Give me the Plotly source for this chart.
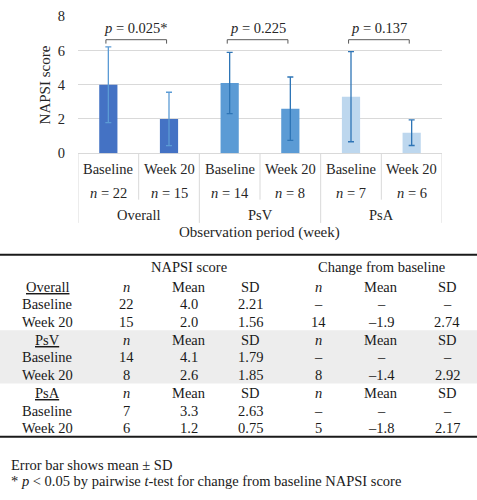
import plotly.graph_objects as go

# ---------------- data ----------------
groups = ["Overall", "PsV", "PsA"]
periods = ["Baseline", "Week 20"]
n_values = [22, 15, 14, 8, 7, 6]
means = [4.0, 2.0, 4.1, 2.6, 3.3, 1.2]
sds = [2.21, 1.56, 1.79, 1.85, 2.63, 0.75]
p_labels = ["0.025*", "0.225", "0.137"]
change_n = [14, 8, 5]
change_mean = [-1.9, -1.4, -1.8]
change_sd = [2.74, 2.92, 2.17]
y_ticks = [0, 2, 4, 6, 8]

bar_colors = ["#4472C4", "#5B9BD5", "#BDD7EE"]
err_colors = ["#5B9BD5", "#2E75B6", "#2E75B6"]

W, H = 477, 500
FONT = "Liberation Serif"
FS = 14.5


def px(x):
    return x / W


def py(y):
    return 1 - y / H


fig = go.Figure()

for g, name in enumerate(groups):
    idx = [2 * g, 2 * g + 1]
    fig.add_trace(go.Bar(
        x=idx,
        y=[means[i] for i in idx],
        width=0.3,
        marker=dict(color=bar_colors[g], line=dict(width=0)),
        error_y=dict(type="data", array=[sds[i] for i in idx], visible=True,
                     color=err_colors[g], thickness=1.3, width=3),
        name=name,
        showlegend=False,
        hoverinfo="skip",
    ))

shapes = []
annotations = []


def text(x, y, t, xref="paper", yref="paper", size=FS, color="#262626", xanchor="center", **kw):
    annotations.append(dict(xref=xref, yref=yref, x=x, y=y, text=t, showarrow=False,
                            xanchor=xanchor, yanchor="middle",
                            font=dict(family=FONT, size=size, color=color), **kw))


# category separators
for k in range(7):
    xs = k - 0.5
    long_line = (k % 2 == 0)
    shapes.append(dict(type="line", xref="x", yref="paper", x0=xs, x1=xs,
                       y0=py(150), y1=py(222 if long_line else 198),
                       line=dict(color="#D9D9D9", width=1)))

# category labels
for i in range(6):
    text(i, py(166), periods[i % 2], xref="x")
    text(i, py(191), f"<i>n</i> = {n_values[i]}", xref="x")
for g, name in enumerate(groups):
    text(2 * g + 0.5, py(214), name, xref="x")

# axis titles
text(px(259), py(232), "Observation period (week)", size=FS + 0.5)
text(px(45), py(80), "NAPSI score", size=FS + 0.5, textangle=-90)

# p-value brackets
for g in range(3):
    x0 = 2 * g - 0.04
    x1 = 2 * g + 0.96
    shapes.append(dict(type="path", xref="x", yref="y",
                       path=f"M {x0},6.4 L {x0},6.63 L {x1},6.63 L {x1},6.4",
                       line=dict(color="#595959", width=1)))
    text((x0 + x1) / 2, 7.3, f"<i>p</i> = {p_labels[g]}", xref="x", yref="y")

# ---------------- table ----------------
shapes.append(dict(type="rect", xref="paper", yref="paper", x0=0, x1=1,
                   y0=py(388), y1=py(333), fillcolor="#EDEDED", line=dict(width=0), layer="below"))
shapes.append(dict(type="line", xref="paper", yref="paper", x0=0, x1=1,
                   y0=py(255), y1=py(255), line=dict(color="#1a1a1a", width=2)))
shapes.append(dict(type="line", xref="paper", yref="paper", x0=0, x1=1,
                   y0=py(443), y1=py(443), line=dict(color="#1a1a1a", width=2)))

col_x = [47, 126, 189, 251, 318, 381, 447]


def cell(x, y, t):
    text(px(x), py(y), t, color="#1a1a1a")


cell(189, 268, "NAPSI score")
cell(381, 268, "Change from baseline")

row_y = [288, 306, 324.5, 343, 361, 379, 398, 416, 434]
dash = "–"


def fmt_signed(v):
    return f"–{abs(v):.1f}" if v < 0 else f"{v:.1f}"


for g, name in enumerate(groups):
    y_head, y_b, y_w = row_y[3 * g], row_y[3 * g + 1], row_y[3 * g + 2]
    head = [f"<u>{name}</u>", "<i>n</i>", "Mean", "SD", "<i>n</i>", "Mean", "SD"]
    for c, t in enumerate(head):
        cell(col_x[c], y_head, t)
    b, w = 2 * g, 2 * g + 1
    base_row = [periods[0], str(n_values[b]), f"{means[b]:.1f}", f"{sds[b]:.2f}", dash, dash, dash]
    wk_row = [periods[1], str(n_values[w]), f"{means[w]:.1f}", f"{sds[w]:.2f}",
              str(change_n[g]), fmt_signed(change_mean[g]), f"{change_sd[g]:.2f}"]
    for c, t in enumerate(base_row):
        cell(col_x[c], y_b, t)
    for c, t in enumerate(wk_row):
        cell(col_x[c], y_w, t)

# footnotes
text(px(9), py(472), "Error bar shows mean ± SD", xanchor="left", color="#1a1a1a", size=14.5)
text(px(9), py(489), "* <i>p</i> < 0.05 by pairwise <i>t</i>-test for change from baseline NAPSI score",
     xanchor="left", color="#1a1a1a", size=14.5)

fig.update_layout(
    width=W, height=H, autosize=False,
    margin=dict(l=0, r=0, t=0, b=0),
    paper_bgcolor="white", plot_bgcolor="white",
    shapes=shapes, annotations=annotations,
    hovermode=False,
    xaxis=dict(domain=[px(78), px(442)], range=[-0.5, 5.5], showticklabels=False,
               showgrid=False, zeroline=False, showline=False, ticks="", fixedrange=True),
    yaxis=dict(domain=[py(150), py(8.5)], range=[0, 8], tickvals=y_ticks,
               showgrid=True, gridcolor="#D9D9D9", gridwidth=1,
               zeroline=True, zerolinecolor="#D9D9D9", zerolinewidth=1,
               showline=False, ticks="", ticklabelstandoff=12, fixedrange=True,
               tickfont=dict(family=FONT, size=FS, color="#262626")),
)

fig.write_html("out.html", config={"displayModeBar": False},
               post_script="document.body.style.margin='0';")
